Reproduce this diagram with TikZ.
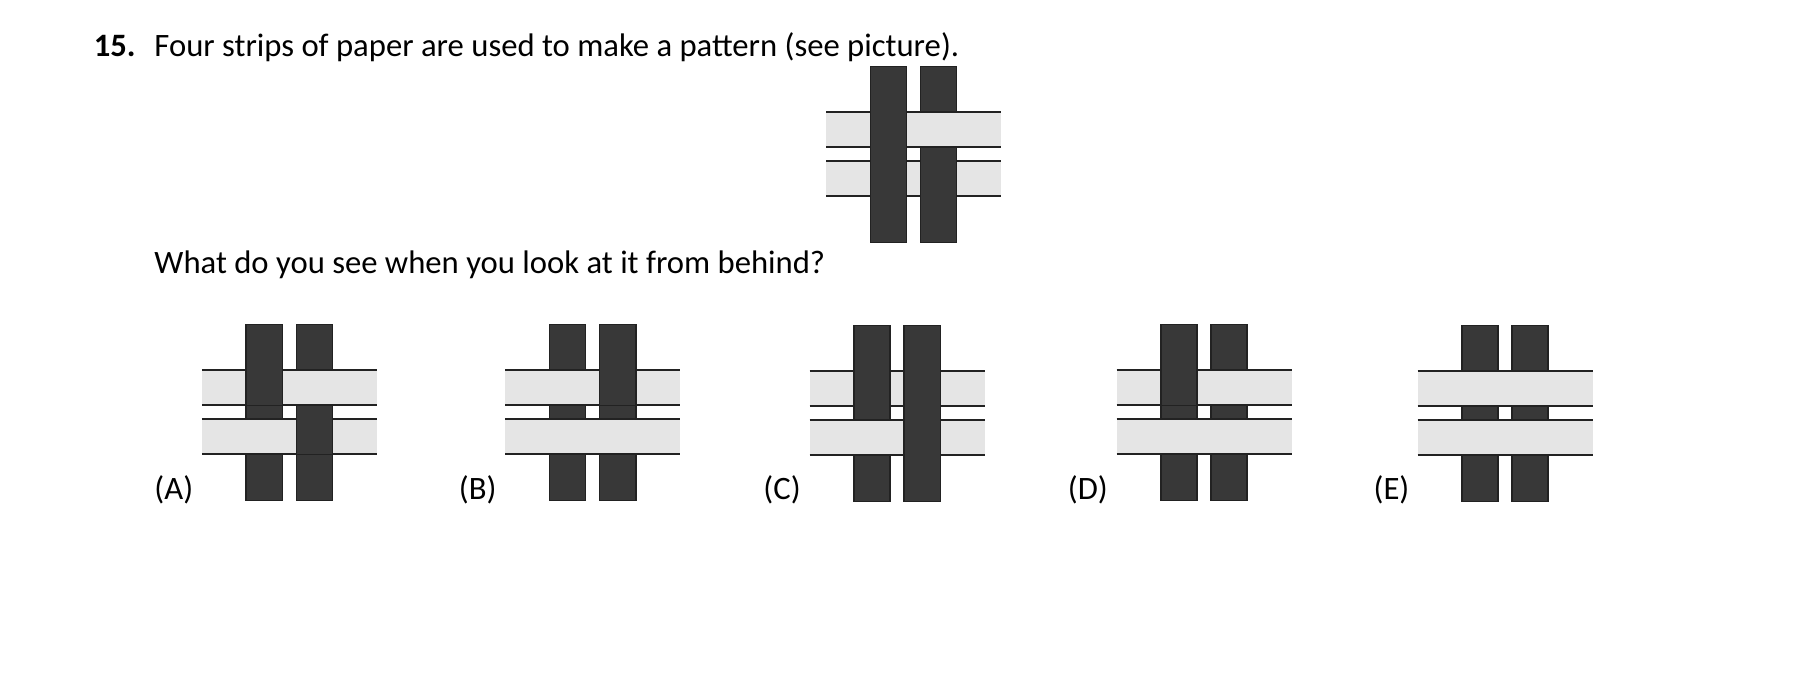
\documentclass[tikz,border=0pt]{standalone}
\usepackage{fontspec}
\setmainfont{Carlito}
\usetikzlibrary{positioning}

\definecolor{stripdark}{HTML}{383838}
\definecolor{stripline}{HTML}{222222}
\tikzset{
    vstrip/.style={fill=stripdark, draw=stripline, line width=0.6pt},
    hstrip/.style={fill=black!10},
    hline/.style={draw=stripline, line width=0.6pt},
    txt/.style={anchor=base west, inner sep=0pt, font=\fontsize{14}{16}\selectfont},
}

% #1,#2 = offset; #3..#6 = vertical over? (V1H1, V1H2, V2H1, V2H2)
\newcommand{\weave}[6]{%
  \begin{scope}[shift={(#1,#2)}]
    \draw[vstrip] (38,0) rectangle (69,151);
    \draw[vstrip] (81,0) rectangle (112,151);
    \foreach \ya/\yb in {39/69, 81/111} {
      \fill[hstrip] (0,\ya) rectangle (150,\yb);
      \draw[hline] (0,\ya) -- (150,\ya);
      \draw[hline] (0,\yb) -- (150,\yb);
    }
    \foreach \f/\xa/\xb/\ya/\yb in {#3/38/69/39/69, #4/38/69/81/111, #5/81/112/39/69, #6/81/112/81/111} {
      \ifnum\f=1
        \fill[stripdark] (\xa,\ya-0.5) rectangle (\xb,\yb+0.5);
        \draw[hline] (\xa,\ya-0.5) -- (\xa,\yb+0.5);
        \draw[hline] (\xb,\ya-0.5) -- (\xb,\yb+0.5);
      \fi
    }
  \end{scope}%
}

\begin{document}
\begin{tikzpicture}[x=0.5pt, y=-0.5pt]
    \useasboundingbox (0,0) rectangle (1560,579);

    \node[txt, font=\fontsize{14}{16}\selectfont\bfseries] (num) at (80,48) {15.};
    \node[txt] (question) at (132,48) {Four strips of paper are used to make a pattern (see picture).};
    \weave{708}{57}{1}{1}{0}{1}

    \node[txt] (behind) at (132,234) {What do you see when you look at it from behind?};

    \weave{173}{278}{1}{0}{0}{1}
    \weave{433}{278}{0}{0}{1}{0}
    \weave{694}{279}{1}{0}{1}{1}
    \weave{957}{278}{1}{0}{0}{0}
    \weave{1215}{279}{0}{0}{0}{0}

    \node[txt] (labA) at (132,428) {(A)};
    \node[txt] (labB) at (393,428) {(B)};
    \node[txt] (labC) at (654,428) {(C)};
    \node[txt] (labD) at (915,428) {(D)};
    \node[txt] (labE) at (1177,428) {(E)};
\end{tikzpicture}
\end{document}
